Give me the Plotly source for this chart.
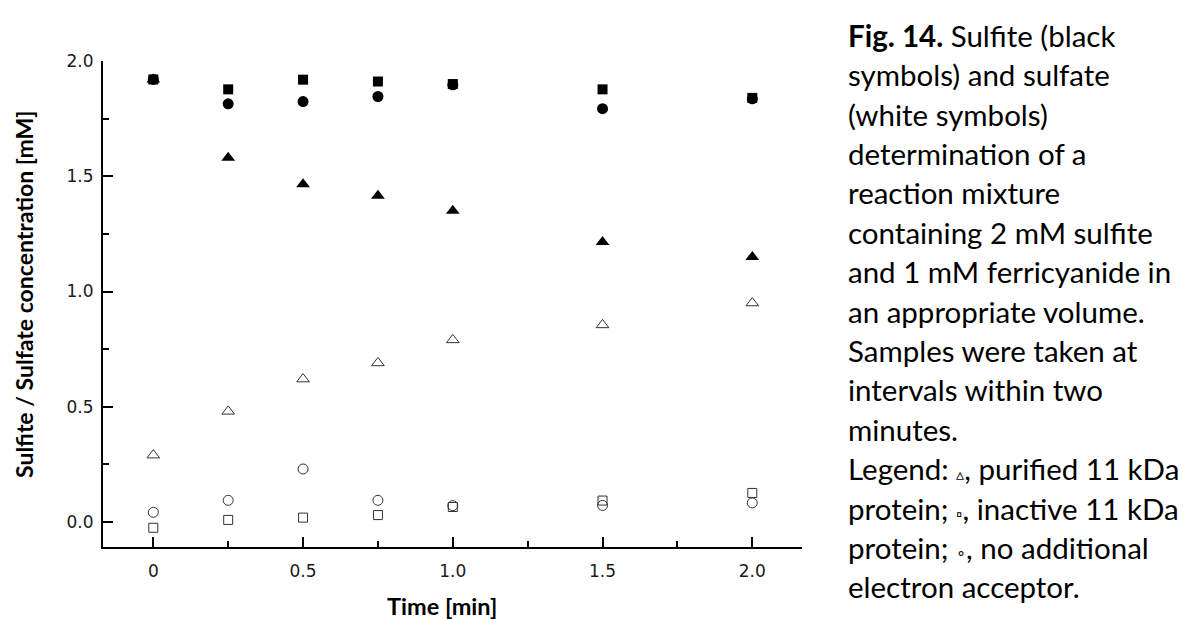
import plotly.graph_objects as go

# ---- data ----
time_min = [0, 0.25, 0.5, 0.75, 1.0, 1.5, 2.0]

sulfite_purified = [1.92, 1.58, 1.465, 1.415, 1.35, 1.215, 1.15]
sulfite_inactive = [1.92, 1.877, 1.919, 1.911, 1.90, 1.877, 1.84]
sulfite_no_acceptor = [1.92, 1.814, 1.824, 1.846, 1.897, 1.793, 1.836]

sulfate_purified = [0.29, 0.48, 0.62, 0.69, 0.79, 0.855, 0.95]
sulfate_inactive = [-0.025, 0.009, 0.019, 0.030, 0.065, 0.093, 0.126]
sulfate_no_acceptor = [0.042, 0.094, 0.230, 0.094, 0.071, 0.072, 0.083]

x_tickvals = [0, 0.5, 1.0, 1.5, 2.0]
x_ticktext = ["0", "0.5", "1.0", "1.5", "2.0"]
y_tickvals = [0, 0.5, 1.0, 1.5, 2.0]
y_ticktext = ["0.0", "0.5", "1.0", "1.5", "2.0"]
minor_tickvals = [0.25, 0.75, 1.25, 1.75]

x_title = "Time [min]"
y_title = "Sulfite / Sulfate concentration [mM]"

caption_lines = [
    "<b>Fig. 14.</b> Sulfite (black",
    "symbols) and sulfate",
    "(white symbols)",
    "determination of a",
    "reaction mixture",
    "containing 2 mM sulfite",
    "and 1 mM ferricyanide in",
    "an appropriate volume.",
    "Samples were taken at",
    "intervals within two",
    "minutes.",
    "Legend: <span style='font-size:16px'>▵</span>, purified 11 kDa",
    "protein; <span style='font-size:16px'>▫</span>, inactive 11 kDa",
    "protein; <span style='font-size:16px'>∘</span>, no additional",
    "electron acceptor.",
]

# ---- layout geometry ----
W, H = 1189, 619
L, R, T, B = 103, 802, 61, 547

def px_x(px):
    return (px - L) / (R - L)

def px_y(py):
    return (B - py) / (B - T)

fig = go.Figure()

# filled (sulfite)
fig.add_trace(go.Scatter(x=time_min, y=sulfite_inactive, mode="markers",
                         marker=dict(symbol="square", size=10, color="black", line=dict(width=0))))
fig.add_trace(go.Scatter(x=time_min, y=sulfite_no_acceptor, mode="markers",
                         marker=dict(symbol="circle", size=11, color="black", line=dict(width=0))))
fig.add_trace(go.Scatter(x=time_min, y=sulfite_purified, mode="markers",
                         marker=dict(symbol="triangle-up", size=12, color="black", line=dict(width=0))))
# open (sulfate)
fig.add_trace(go.Scatter(x=time_min, y=sulfate_inactive, mode="markers",
                         marker=dict(symbol="square-open", size=9, color="#333333", line=dict(width=1))))
fig.add_trace(go.Scatter(x=time_min, y=sulfate_no_acceptor, mode="markers",
                         marker=dict(symbol="circle-open", size=10, color="#333333", line=dict(width=1))))
fig.add_trace(go.Scatter(x=time_min, y=sulfate_purified, mode="markers",
                         marker=dict(symbol="triangle-up-open", size=11, color="#333333", line=dict(width=1))))

tick_font = dict(family="DejaVu Sans", size=17, color="#1a1a1a")

fig.update_xaxes(
    range=[-0.168, 2.166], showgrid=False, zeroline=False,
    showline=True, linecolor="black", linewidth=2,
    ticks="inside", ticklen=10, tickwidth=2, tickcolor="black",
    tickvals=x_tickvals, ticktext=x_ticktext, tickfont=tick_font,
    ticklabelstandoff=8,
    minor=dict(ticks="inside", ticklen=6, tickwidth=2, tickcolor="black",
               tickvals=minor_tickvals, showgrid=False),
)
fig.update_yaxes(
    range=[-0.1085, 2.0], showgrid=False, zeroline=False,
    showline=True, linecolor="black", linewidth=2,
    ticks="inside", ticklen=10, tickwidth=2, tickcolor="black",
    tickvals=y_tickvals, ticktext=y_ticktext, tickfont=tick_font,
    ticklabelstandoff=4,
    minor=dict(ticks="inside", ticklen=6, tickwidth=2, tickcolor="black",
               tickvals=minor_tickvals, showgrid=False),
)

annotations = []
annotations.append(dict(text="<b>" + x_title + "</b>", x=px_x(442), y=px_y(606),
                        xref="paper", yref="paper", showarrow=False,
                        xanchor="center", yanchor="middle",
                        font=dict(family="Lato", size=23.5, color="black")))
annotations.append(dict(text="<b>" + y_title + "</b>", x=px_x(24), y=px_y(295),
                        xref="paper", yref="paper", showarrow=False, textangle=-90,
                        xanchor="center", yanchor="middle",
                        font=dict(family="Lato", size=23, color="black")))

cap_font = dict(family="Lato", size=29.5, color="black")
for i, line in enumerate(caption_lines):
    center = 35.3 + 39.4 * i
    annotations.append(dict(text=line, x=px_x(846), y=px_y(center),
                            xref="paper", yref="paper", showarrow=False,
                            xanchor="left", yanchor="middle", font=cap_font))

fig.update_layout(
    width=W, height=H, autosize=False,
    margin=dict(l=L, r=W - R, t=T, b=H - B),
    plot_bgcolor="white", paper_bgcolor="white",
    showlegend=False,
    annotations=annotations,
)

fig.write_html("out.html", config={"displayModeBar": False},
               post_script="document.body.style.margin='0px';")
